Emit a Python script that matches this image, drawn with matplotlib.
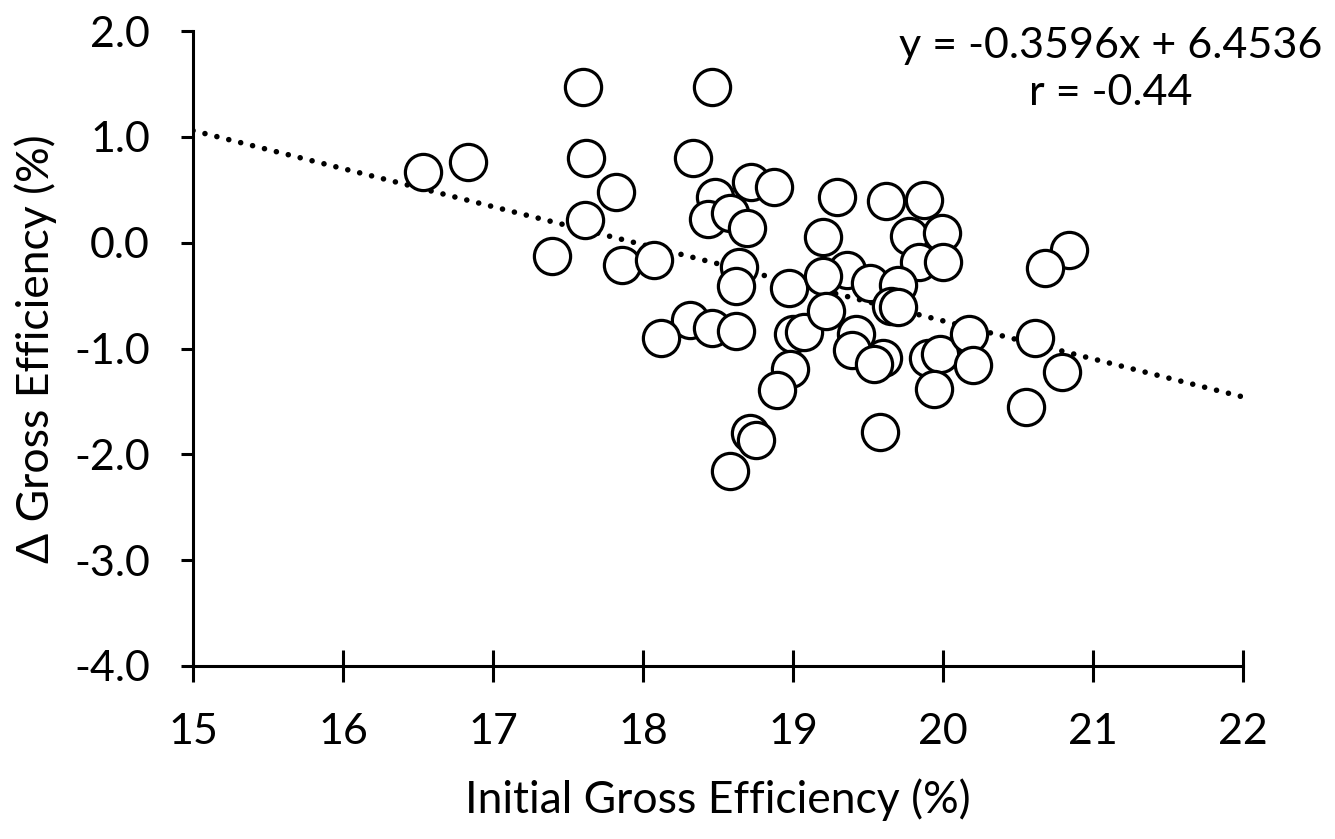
import matplotlib.pyplot as plt
import numpy as np

plt.rcParams['font.family'] = ['Lato', 'DejaVu Sans']

# initial gross efficiency (%) and change in gross efficiency (%)
initial_ge = [17.60, 18.46, 16.53, 16.83, 17.62, 18.33, 17.82, 17.61, 17.39, 17.86,
              18.07, 18.48, 18.72, 18.87, 18.43, 18.58, 18.69, 18.64, 18.62, 18.97,
              18.31, 18.46, 18.12, 18.62, 19.00, 19.07, 18.98, 18.89, 18.71, 18.75,
              18.58, 19.29, 19.62, 19.87, 19.20, 19.77, 19.99, 19.84, 20.00, 19.36,
              19.20, 19.51, 19.70, 19.65, 19.70, 19.22, 19.42, 19.39, 19.60, 19.54,
              19.90, 19.98, 20.17, 20.20, 19.94, 19.58, 20.84, 20.68, 20.61, 20.79,
              20.55]
delta_ge = [1.47, 1.47, 0.67, 0.76, 0.80, 0.80, 0.48, 0.21, -0.13, -0.21,
            -0.16, 0.43, 0.57, 0.53, 0.22, 0.28, 0.14, -0.23, -0.41, -0.43,
            -0.73, -0.81, -0.90, -0.83, -0.86, -0.84, -1.19, -1.39, -1.80, -1.86,
            -2.16, 0.43, 0.39, 0.40, 0.05, 0.06, 0.09, -0.18, -0.18, -0.26,
            -0.31, -0.38, -0.40, -0.60, -0.61, -0.65, -0.86, -1.01, -1.09, -1.15,
            -1.09, -1.05, -0.86, -1.16, -1.38, -1.79, -0.07, -0.24, -0.90, -1.22,
            -1.55]

slope = -0.3596
intercept = 6.4536
r_value = -0.44

fig = plt.figure(figsize=(13.35, 8.39), dpi=100)
ax = fig.add_axes([0.1446, 0.2062, 0.7865, 0.7568])

# trend line
tx = np.array([15, 22])
ax.plot(tx, slope * tx + intercept, color='black', lw=4,
        linestyle=(0, (0.01, 2.2)), dash_capstyle='round', zorder=1)

ax.scatter(initial_ge, delta_ge, s=680, facecolor='white', edgecolor='black',
           linewidth=2.3, zorder=2, clip_on=False)

ax.set_xlim(15, 22)
ax.set_ylim(-4, 2)
ax.set_xticks(range(15, 23))
ax.set_yticks(np.arange(-4, 2.1, 1))
ax.set_yticklabels([f"{v:.1f}" for v in np.arange(-4, 2.1, 1)])

for s in ['top', 'right']:
    ax.spines[s].set_visible(False)
for s in ['left', 'bottom']:
    ax.spines[s].set_linewidth(2.2)

ax.tick_params(axis='x', direction='inout', length=23, width=2.2, pad=22, labelsize=31)
ax.tick_params(axis='y', direction='out', length=9, width=2.2, pad=22, labelsize=31)

ax.set_xlabel("Initial Gross Efficiency (%)", fontsize=32, labelpad=20)
ax.set_ylabel("Δ Gross Efficiency (%)", fontsize=32, labelpad=12)

fig.text(0.832, 0.968, f"y = {slope}x + {intercept}\nr = {r_value}",
         ha='center', va='top', multialignment='center', fontsize=31,
         linespacing=1.3)

fig.savefig("out.png", dpi=100, facecolor='white')
